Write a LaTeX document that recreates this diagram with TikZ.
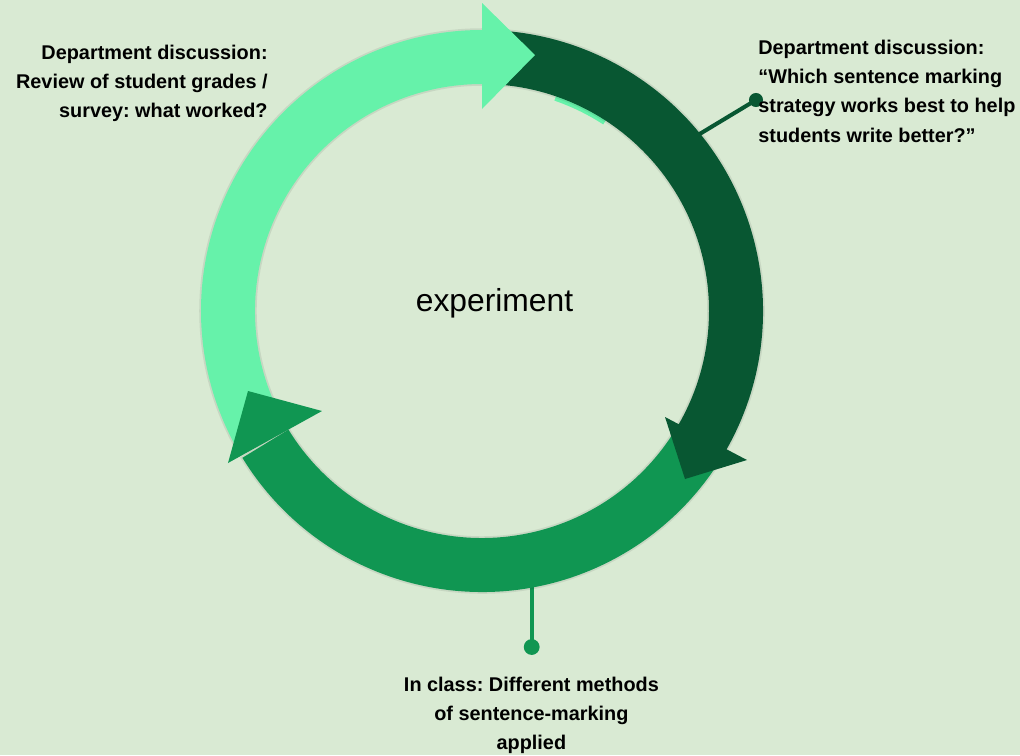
\documentclass[tikz,border=0pt]{standalone}
\usepackage{fontspec}
\setmainfont{Liberation Sans}
\usepackage{tikz}
\usepackage{xcolor}
\definecolor{bgc}{RGB}{217,234,211}
\definecolor{lightc}{RGB}{102,242,170}
\definecolor{darkc}{RGB}{8,87,50}
\definecolor{midc}{RGB}{16,150,82}
\frenchspacing

\begin{document}
\begin{tikzpicture}[x=0.02cm, y=0.02cm,
    halo/.style={preaction={draw=black, draw opacity=0.08, line width=2pt}},
    label/.style={inner sep=0pt, font=\fontsize{11.3}{16.6}\selectfont\bfseries},
    dot/.style={circle, inner sep=0pt, minimum size=#1},
    leader/.style={line width=2.3pt}]
  \useasboundingbox[fill=bgc] (-482,-444) rectangle (538,311);

  \coordinate (q0) at (39.5:268);
  \coordinate (c0) at (49.7,-268);
  \node[dot=8pt, fill=darkc] (dq) at (274,211) {};
  \node[dot=9pt, fill=midc] (dc) at (49.7,-336) {};
  \draw[leader, darkc] (q0) -- (dq.center);
  \draw[leader, midc] (c0) -- (dc.center);

  \fill[lightc, halo] (209:227) arc[start angle=209, end angle=90, radius=227]
    -- (90:281) arc[start angle=90, end angle=209, radius=281] -- cycle;
  \fill[lightc] (71:222.5) arc[start angle=71, end angle=57, radius=222.5]
    -- (57:228) arc[start angle=57, end angle=71, radius=228] -- cycle;
  \fill[darkc, halo] (87:227) arc[start angle=87, end angle=-30, radius=227]
    -- (-30:281) arc[start angle=-30, end angle=87, radius=281] -- cycle;
  \fill[midc, halo] (-31.5:227) arc[start angle=-31.5, end angle=-148.5, radius=227]
    -- (-148.5:281) arc[start angle=-148.5, end angle=-31.5, radius=281] -- cycle;

  \fill[lightc] (0,202) -- (0,308) -- (53,256) -- cycle;
  \fill[darkc] (183,-106) -- (265,-149) -- (203,-168) -- cycle;
  \fill[midc] (-160,-100) -- (-254,-152) -- (-234,-80) -- cycle;

  \node[font=\fontsize{18.1}{21}\selectfont, anchor=base] (exp) at (12.5,-0.5) {experiment};
  \node[label, align=right, anchor=base east] (review) at (-214,193.5)
    {Department discussion:\\Review of student grades /\\survey: what worked?};
  \node[label, align=left, anchor=base west] (question) at (276,169)
    {Department discussion:\\``Which sentence marking\\strategy works best to help\\students write better?''};
  \node[label, align=center, anchor=base, font=\fontsize{11.3}{16.3}\selectfont\bfseries] (inclass) at (49.4,-438)
    {In class: Different methods\\of sentence-marking\\applied};
\end{tikzpicture}
\end{document}
